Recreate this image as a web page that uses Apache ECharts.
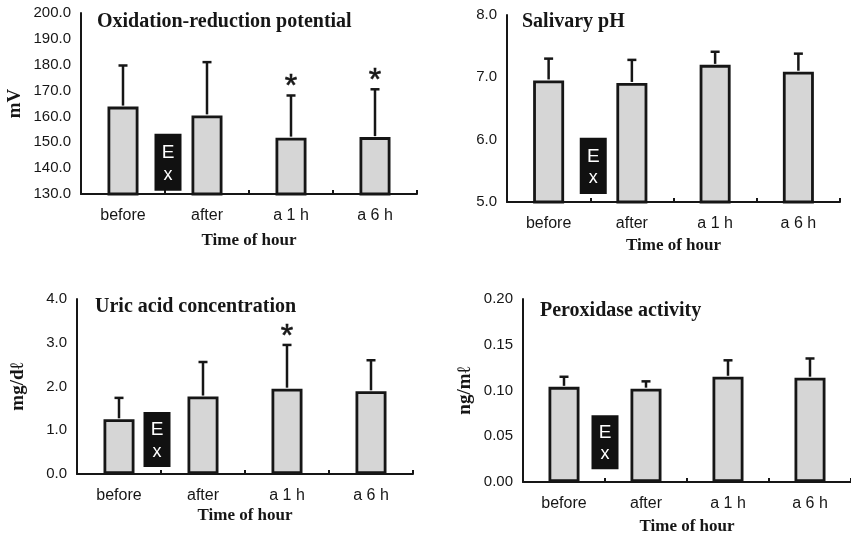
<!DOCTYPE html>
<html>
<head>
<meta charset="utf-8">
<script src="https://cdn.jsdelivr.net/npm/echarts@6/dist/echarts.min.js"></script>
<style>
  html, body { margin: 0; padding: 0; background: #fff; }
  #main { width: 851px; height: 539px; }
</style>
</head>
<body>
<div id="main"></div>
<script>
// 数据
var categories = ['before', 'after', 'a 1 h', 'a 6 h'];

var orpMean = [163.8, 160.4, 151.8, 152.0];
var orpSD = [15.9, 20.6, 16.3, 18.5];
var orpSig = [0, 0, 1, 1];
var orpTicks = [130, 200, 10];
var orpEx = [153.3, 131.3];

var phMean = [6.95, 6.91, 7.20, 7.09];
var phSD = [0.35, 0.37, 0.21, 0.29];
var phSig = [0, 0, 0, 0];
var phTicks = [5, 8, 1];
var phEx = [6.03, 5.13];

var uricMean = [1.25, 1.77, 1.95, 1.89];
var uricSD = [0.49, 0.79, 1.00, 0.71];
var uricSig = [0, 0, 1, 0];
var uricTicks = [0, 4, 1];
var uricEx = [1.42, 0.16];

var peroxMean = [0.104, 0.102, 0.115, 0.114];
var peroxSD = [0.011, 0.008, 0.018, 0.021];
var peroxSig = [0, 0, 0, 0];
var peroxTicks = [0, 0.2, 0.05];
var peroxEx = [0.073, 0.014];

var sans = 'Liberation Sans, Arial, sans-serif';
var serif = 'Liberation Serif, Times New Roman, serif';
var ink = '#161616';

var panels = [
  {title: 'Oxidation-reduction potential', unit: 'mV', mean: orpMean, sd: orpSD, sig: orpSig, ticks: orpTicks, ex: orpEx, digits: 1,
   grid: {left: 81, top: 13, width: 336, height: 181}, titlePos: [97, 12], nameGap: 38, unitGap: 56, exShift: 3},
  {title: 'Salivary pH', unit: '', mean: phMean, sd: phSD, sig: phSig, ticks: phTicks, ex: phEx, digits: 1,
   grid: {left: 507, top: 15, width: 333, height: 187}, titlePos: [522, 12], nameGap: 35, unitGap: 50, exShift: 3},
  {title: 'Uric acid concentration', unit: 'mg/d\u2113', mean: uricMean, sd: uricSD, sig: uricSig, ticks: uricTicks, ex: uricEx, digits: 1,
   grid: {left: 77, top: 299, width: 336, height: 175}, titlePos: [95, 297], nameGap: 33, unitGap: 49, exShift: -4},
  {title: 'Peroxidase activity', unit: 'ng/m\u2113', mean: peroxMean, sd: peroxSD, sig: peroxSig, ticks: peroxTicks, ex: peroxEx, digits: 2,
   grid: {left: 523, top: 299, width: 332, height: 183}, titlePos: [540, 301], nameGap: 36, unitGap: 48, exShift: 0}
];

var option = {
  backgroundColor: '#fff',
  animation: false,
  title: [],
  grid: [],
  xAxis: [],
  yAxis: [],
  series: []
};

panels.forEach(function (p, i) {
  option.title.push({
    text: p.title, left: p.titlePos[0], top: p.titlePos[1], padding: 0,
    textStyle: {fontFamily: serif, fontWeight: 'bold', fontSize: 20, color: ink}
  });
  option.grid.push(p.grid);
  option.xAxis.push({
    type: 'category', gridIndex: i, data: categories,
    name: 'Time of hour', nameLocation: 'middle', nameGap: p.nameGap,
    nameTextStyle: {fontFamily: serif, fontWeight: 'bold', fontSize: 17, color: ink},
    axisLine: {lineStyle: {color: ink, width: 2}},
    axisTick: {show: true, inside: true, length: 4, lineStyle: {color: ink, width: 2}},
    axisLabel: {fontFamily: sans, fontSize: 16, color: ink, margin: 14}
  });
  option.yAxis.push({
    type: 'value', gridIndex: i, min: p.ticks[0], max: p.ticks[1], interval: p.ticks[2],
    name: p.unit, nameLocation: 'middle', nameGap: p.unitGap, nameRotate: 90,
    nameTextStyle: {fontFamily: serif, fontWeight: 'bold', fontSize: 19, color: ink},
    axisLine: {show: true, lineStyle: {color: ink, width: 2}},
    axisTick: {show: false},
    splitLine: {show: false},
    axisLabel: {fontFamily: sans, fontSize: 15, color: ink, margin: 10,
      formatter: function (v) { return v.toFixed(p.digits); }}
  });

  // 柱子
  option.series.push({
    type: 'bar', xAxisIndex: i, yAxisIndex: i, data: p.mean, barWidth: 31,
    itemStyle: {color: '#d6d6d6', borderColor: ink, borderWidth: 2.8},
    z: 2
  });

  // 误差线（只画上半部分）
  var errData = p.mean.map(function (m, k) { return [k, m, m + p.sd[k]]; });
  option.series.push({
    type: 'custom', xAxisIndex: i, yAxisIndex: i, data: errData, z: 3,
    encode: {x: 0, y: [1, 2]},
    renderItem: function (params, api) {
      var a = api.coord([api.value(0), api.value(1)]);
      var b = api.coord([api.value(0), api.value(2)]);
      var st = {stroke: ink, lineWidth: 2.5};
      return {type: 'group', children: [
        {type: 'line', shape: {x1: a[0], y1: a[1] - 1, x2: b[0], y2: b[1]}, style: st},
        {type: 'line', shape: {x1: b[0] - 4.5, y1: b[1], x2: b[0] + 4.5, y2: b[1]}, style: st}
      ]};
    }
  });

  // 显著性星号
  var starData = [];
  p.sig.forEach(function (s, k) { if (s) starData.push([k, p.mean[k] + p.sd[k]]); });
  option.series.push({
    type: 'custom', xAxisIndex: i, yAxisIndex: i, data: starData, z: 4,
    encode: {x: 0, y: 1},
    renderItem: function (params, api) {
      var c = api.coord([api.value(0), api.value(1)]);
      return {type: 'text', x: c[0], y: c[1] + 8,
        style: {text: '*', fontFamily: sans, fontSize: 32, fill: ink, stroke: ink, lineWidth: 0.6, align: 'center', verticalAlign: 'bottom'}};
    }
  });

  // Ex 方块（运动时段）
  option.series.push({
    type: 'custom', xAxisIndex: i, yAxisIndex: i, data: [[0, p.ex[0], p.ex[1]]], z: 5,
    encode: {x: 0, y: [1, 2]},
    renderItem: function (params, api) {
      var c0 = api.coord([0, api.value(1)]);
      var c1 = api.coord([1, api.value(2)]);
      var cx = (c0[0] + c1[0]) / 2 + p.exShift;
      var top = c0[1], bot = c1[1], h = bot - top;
      return {type: 'group', children: [
        {type: 'rect', shape: {x: cx - 13.5, y: top, width: 27, height: h}, style: {fill: '#111'}},
        {type: 'text', x: cx, y: top + h * 0.33, style: {text: 'E', fontFamily: sans, fontSize: 19, fill: '#fff', align: 'center', verticalAlign: 'middle'}},
        {type: 'text', x: cx, y: top + h * 0.72, style: {text: 'x', fontFamily: sans, fontSize: 18, fill: '#fff', align: 'center', verticalAlign: 'middle'}}
      ]};
    }
  });
});

var myChart = echarts.init(document.getElementById('main'));
myChart.setOption(option);
</script>
</body>
</html>
